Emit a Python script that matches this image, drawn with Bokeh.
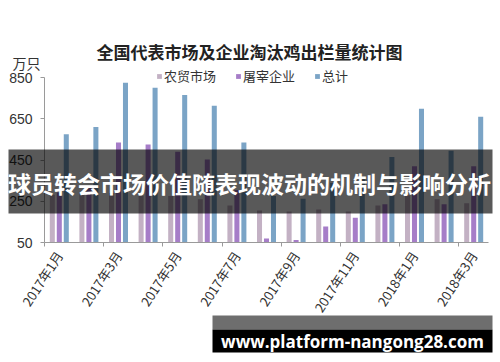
from bokeh.plotting import figure
from bokeh.models import (Range1d, FixedTicker, BoxAnnotation, Label, Legend,
                          LegendItem, LinearAxis)
from bokeh.embed import file_html
from bokeh.resources import INLINE
import math

# ---- data ----
months = ["2017年1月", "2017年2月", "2017年3月", "2017年4月", "2017年5月",
          "2017年6月", "2017年7月", "2017年8月", "2017年9月", "2017年10月",
          "2017年11月", "2017年12月", "2018年1月", "2018年2月", "2018年3月"]
market = [282, 288, 290, 275, 275, 260, 230, 205, 200, 210, 200, 230, 278, 260, 240]
slaughter = [293, 322, 535, 525, 490, 453, 305, 70, 62, 128, 170, 235, 420, 235, 420]
total = [575, 610, 825, 800, 765, 713, 535, 275, 262, 338, 370, 465, 698, 495, 660]
series_names = ["农贸市场", "屠宰企业", "总计"]
colors = ["#c3b1c4", "#a67dc8", "#7ba4c6"]
y_ticks = [50, 250, 450, 650, 850]
title_text = "全国代表市场及企业淘汰鸡出栏量统计图"
unit_text = "万只"
banner_text = "球员转会市场价值随表现波动的机制与影响分析"
footer_text = "www.platform-nangong28.com"

FONT = "Noto Sans CJK SC"

# ---- layout geometry (pixels) ----
W, H = 500, 362
PL, PR, PT, PB = 44, 488, 77, 242      # plot-area edges on the canvas
Y0, Y1 = y_ticks[0], y_ticks[-1]

n = len(months)
xs = list(range(n))
ux = n / (PR - PL)
uy = (Y1 - Y0) / (PB - PT)
x_range = Range1d(-0.5 - PL * ux, n - 0.5 + (W - PR) * ux)
y_range = Range1d(Y0 - (H - PB) * uy, Y1 + PT * uy)

p = figure(width=W, height=H, output_backend="svg", toolbar_location=None,
           x_range=x_range, y_range=y_range,
           x_axis_location=None, y_axis_location=None, min_border=0)
p.outline_line_color = None
p.background_fill_color = "white"
p.border_fill_color = "white"
p.xgrid.visible = False
p.ygrid.visible = False

bw = 0.17
off = 0.236
r1 = p.vbar(x=[v - off for v in xs], top=market, bottom=Y0, width=bw,
            fill_color=colors[0], line_color=None)
r2 = p.vbar(x=xs, top=slaughter, bottom=Y0, width=bw,
            fill_color=colors[1], line_color=None)
r3 = p.vbar(x=[v + off for v in xs], top=total, bottom=Y0, width=bw,
            fill_color=colors[2], line_color=None)

# y axis
yaxis = LinearAxis(fixed_location=-0.5, bounds=(Y0, Y1),
                   ticker=FixedTicker(ticks=y_ticks, minor_ticks=[]))
yaxis.axis_line_color = "#9a9a9a"
yaxis.major_tick_line_color = "#9a9a9a"
yaxis.major_tick_out = 4
yaxis.major_tick_in = 0
yaxis.minor_tick_line_color = None
yaxis.major_label_text_font = "Liberation Sans"
yaxis.major_label_text_font_size = "14px"
yaxis.major_label_text_color = "#333333"
yaxis.major_label_standoff = 8
p.add_layout(yaxis, "left")

# x axis: labels every 2 months at centres, tick marks at boundaries
lab_ticks = xs[::2]
xaxis = LinearAxis(fixed_location=Y0, bounds=(-0.5, n - 0.5),
                   ticker=FixedTicker(ticks=lab_ticks,
                                      minor_ticks=[t - 0.5 for t in range(0, n + 1, 2)]))
xaxis.major_label_overrides = {i: months[i] for i in lab_ticks}
xaxis.major_label_orientation = math.radians(57)
xaxis.major_label_text_font = FONT
xaxis.major_label_text_font_size = "13px"
xaxis.major_label_text_color = "#333333"
xaxis.major_label_standoff = 4
xaxis.axis_line_color = "#9a9a9a"
xaxis.major_tick_line_color = None
xaxis.minor_tick_line_color = "#9a9a9a"
xaxis.minor_tick_out = 4
xaxis.minor_tick_in = 0
p.add_layout(xaxis, "below")

# legend
legend = Legend(items=[LegendItem(label=series_names[0], renderers=[r1]),
                       LegendItem(label=series_names[1], renderers=[r2]),
                       LegendItem(label=series_names[2], renderers=[r3])],
                orientation="horizontal", location=(156, H - 85),
                glyph_width=6, glyph_height=6, label_standoff=2, spacing=19,
                padding=0, margin=0, border_line_color=None,
                background_fill_alpha=0,
                label_text_font=FONT, label_text_font_size="13px",
                label_text_color="#333333")
p.add_layout(legend, "center")

def label(x, y, text, **kw):
    p.add_layout(Label(x=x, y=H - y, x_units="screen", y_units="screen",
                       text=text, text_baseline="middle", **kw))

label(249, 51, title_text, text_align="center", text_font=FONT,
      text_font_style="bold", text_font_size="17px", text_color="#222222")
label(12, 62, unit_text, text_align="left", text_font=FONT,
      text_font_size="14px", text_color="#333333")

def box(x0, x1, ytop, ybot, alpha):
    p.add_layout(BoxAnnotation(left=x0, right=x1, bottom=H - ybot, top=H - ytop,
                               left_units="screen", right_units="screen",
                               bottom_units="screen", top_units="screen",
                               fill_color="black", fill_alpha=alpha, line_color=None,
                               level="overlay"))

# overlay banner
box(8, 492, 149, 213, 0.65)
label(249, 182, banner_text, text_align="center", text_font=FONT,
      text_font_style="bold", text_font_size="23px", text_color="white",
      level="overlay")

# footer
box(212, 492, 315, 329, 0.57)
box(212, 492, 329, 352, 1.0)
label(352, 341, footer_text, text_align="center", text_font="Open Sans",
      text_font_style="bold", text_font_size="17px", text_color="white",
      level="overlay")

open("out.html", "w").write(file_html(p, INLINE))
